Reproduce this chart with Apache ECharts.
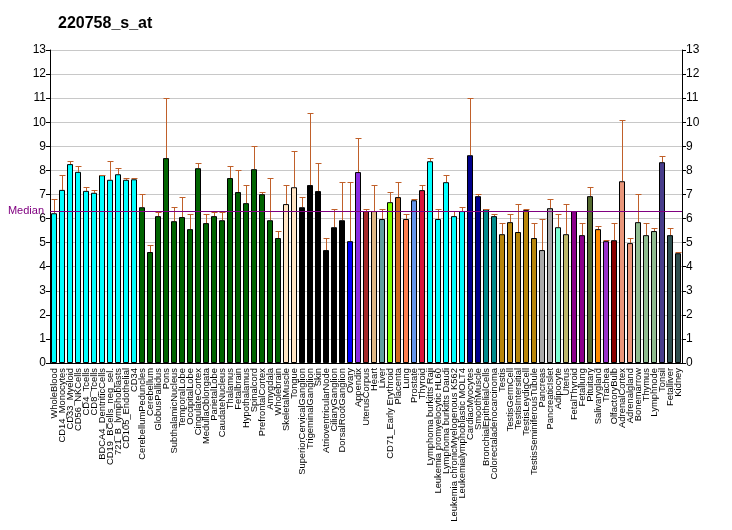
<!DOCTYPE html>
<html><head><meta charset="utf-8">
<script src="https://cdn.jsdelivr.net/npm/echarts@6/dist/echarts.min.js"></script>
<style>html,body{margin:0;padding:0;background:#fff}#c{width:732px;height:530px}</style>
</head><body><div id="c"></div>
<script>
const categories = ["WholeBlood","CD14_Monocytes","CD33_Myeloid","CD56_NKCells","CD4_Tcells","CD8_Tcells","BDCA4_DentriticCells","CD19_BCells_neg_sel.","721_B_lymphoblasts","CD105_Endothelial","CD34","CerebellumPeduncles","Cerebellum","GlobusPallidus","Pons","SubthalamicNucleus","TemporalLobe","OccipitalLobe","CingulateCortex","MedullaOblongata","ParietalLobe","CaudateNucleus","Thalamus","Fetalbrain","Hypothalamus","Spinalcord","PrefrontalCortex","Amygdala","Wholebrain","SkeletalMuscle","Tongue","SuperiorCervicalGanglion","TrigeminalGanglion","Skin","AtrioventricularNode","CiliaryGanglion","DorsalRootGanglion","Ovary","Appendix","UterusCorpus","Heart","Liver","CD71_Early Erythroid","Placenta","Lung","Prostate","Thyroid","Lymphoma burkitts Raji","Leukemia promyelocytic HL60","Lymphoma burkitts Daudi","Leukemia chronicMyelogenous K562","Leukemialymphoblastic MOLT4","CardiacMyocytes","SmoothMuscle","BronchialEpithelialCells","Colorectaladenocarcinoma","Testis","TestisGermCell","TestisIntersitial","TestisLeydigCell","TestisSeminiferousTubule","Pancreas","PancreaticIslet","Adipocyte","Uterus","FetalThyroid","Fetallung","Pituitary","Salivarygland","Trachea","OlfactoryBulb","AdrenalCortex","Adrenalgland","Bonemarrow","Thymus","Lymphnode","Tonsil","Fetalliver","Kidney"];
const values = [6.22,7.19,8.26,7.94,7.15,7.07,7.80,7.61,7.84,7.61,7.63,
 6.47,4.61,6.10,8.51,5.89,6.06,5.56,8.09,5.81,6.10,5.93,7.68,7.10,6.64,8.05,7.01,5.93,5.19,
 6.60,7.30,6.47,7.39,7.14,4.69,5.64,5.93,5.06,7.93,6.31,6.31,
 5.98,6.68,6.89,5.98,6.76,7.18,8.38,5.98,7.51,6.10,6.31,8.63,6.93,6.39,6.10,
 5.35,5.85,5.44,6.35,5.19,4.69,6.43,5.64,5.35,6.31,5.31,6.93,5.56,5.06,5.10,7.55,4.98,5.85,5.31,5.48,8.34,5.31,4.56];
const errTops = [6.80,7.79,8.38,8.17,7.30,7.19,7.80,8.38,8.08,7.68,7.68,
 7.01,4.90,6.28,11.0,6.47,6.89,6.18,8.30,6.18,6.28,6.28,8.17,8.01,7.39,9.00,7.10,7.68,5.48,
 7.39,8.80,6.89,10.37,8.30,5.19,6.39,7.51,7.51,9.36,6.39,7.39,
 6.39,7.10,7.51,6.18,6.80,7.39,8.51,6.39,7.80,6.31,6.47,11.0,7.01,6.39,6.18,
 5.81,6.18,6.60,6.39,5.81,5.98,6.80,6.18,6.60,6.31,5.81,7.30,5.68,5.10,5.81,10.08,5.19,7.01,5.81,5.60,8.59,5.60,4.61];
const barColors = [].concat(
 Array(11).fill('#00FFFF'), Array(18).fill('#006400'), Array(2).fill('#FFE4C4'), Array(6).fill('#000000'),
 ['#0000FF','#8A2BE2','#A52A2A','#DEB887','#5F9EA0','#7FFF00','#D2691E','#FF7F50','#6495ED','#DC143C'],
 Array(5).fill('#00FFFF'), Array(2).fill('#00008B'), Array(2).fill('#008B8B'), Array(5).fill('#B8860B'),
 Array(2).fill('#A9A9A9'), ['#7FFFD4','#BDB76B','#8B008B','#8B008B','#556B2F','#FF8C00','#9932CC','#8B0000','#E9967A','#E9967A'],
 Array(3).fill('#8FBC8F'), ['#483D8B','#2F4F4F','#2F4F4F']);
const yTicks = [0,1,2,3,4,5,6,7,8,9,10,11,12,13];
const medianValue = 6.31;
const titleText = '220758_s_at';

const chart = echarts.init(document.getElementById('c'), null, {renderer:'canvas'});
const FF = 'Liberation Sans, Arial, sans-serif';
const axisLabelStyle = {color:'#000', fontSize:12, fontFamily:FF};
chart.setOption({
  animation:false,
  title:{text:titleText,left:53,top:11,textStyle:{fontSize:16,fontWeight:'bold',color:'#000',fontFamily:FF}},
  grid:{left:50,right:50,top:50,bottom:167,containLabel:false,outerBoundsMode:'none'},
  xAxis:{type:'category',data:categories,
    axisLine:{lineStyle:{color:'#000'}},
    axisTick:{alignWithLabel:true,length:5,lineStyle:{color:'#000'}},
    axisLabel:{interval:0,rotate:90,fontSize:9.4,color:'#000',margin:5,fontFamily:FF}},
  yAxis:[
    {type:'value',min:0,max:13,interval:1,position:'left',
     axisLine:{show:true,lineStyle:{color:'#000'}},axisTick:{show:true,length:4,lineStyle:{color:'#000'}},
     axisLabel:Object.assign({margin:4,formatter:v=>yTicks.includes(v)?String(v):''},axisLabelStyle),
     splitLine:{show:true,lineStyle:{color:'#C8C8C8',width:1}}},
    {type:'value',min:0,max:13,interval:1,position:'right',
     axisLine:{show:true,lineStyle:{color:'#000'}},axisTick:{show:true,length:4,lineStyle:{color:'#000'}},
     axisLabel:Object.assign({margin:4},axisLabelStyle),
     splitLine:{show:false}}
  ],
  series:[
    {type:'bar',data:values.map((v,i)=>({value:v,itemStyle:{color:barColors[i]}})),
     barWidth:6,itemStyle:{borderColor:'#000',borderWidth:1},
     markLine:{silent:true,symbol:'none',
       lineStyle:{color:'#800080',width:1,type:'solid'},
       label:{show:true,position:'start',formatter:'Median',color:'#800080',fontSize:11,distance:6,fontFamily:FF},
       data:[{yAxis:medianValue}]},
     z:2},
    {type:'custom',z:3,
     data:values.map((v,i)=>[i,v,errTops[i]]),
     renderItem:function(params,api){
       const x=api.value(0);
       const p0=api.coord([x,api.value(1)]);
       const p1=api.coord([x,api.value(2)]);
       const cx=Math.round(p0[0])+0.5;
       const yb=Math.round(p0[1]);
       const yt=Math.round(p1[1])+0.5;
       const hw=2.5;
       const s={stroke:'#C0602A',lineWidth:1};
       return {type:'group',children:[
         {type:'line',shape:{x1:cx,y1:yb,x2:cx,y2:yt},style:s},
         {type:'line',shape:{x1:cx-hw-0.5,y1:yt,x2:cx+hw+0.5,y2:yt},style:s}
       ]};
     }}
  ]
});
</script></body></html>
